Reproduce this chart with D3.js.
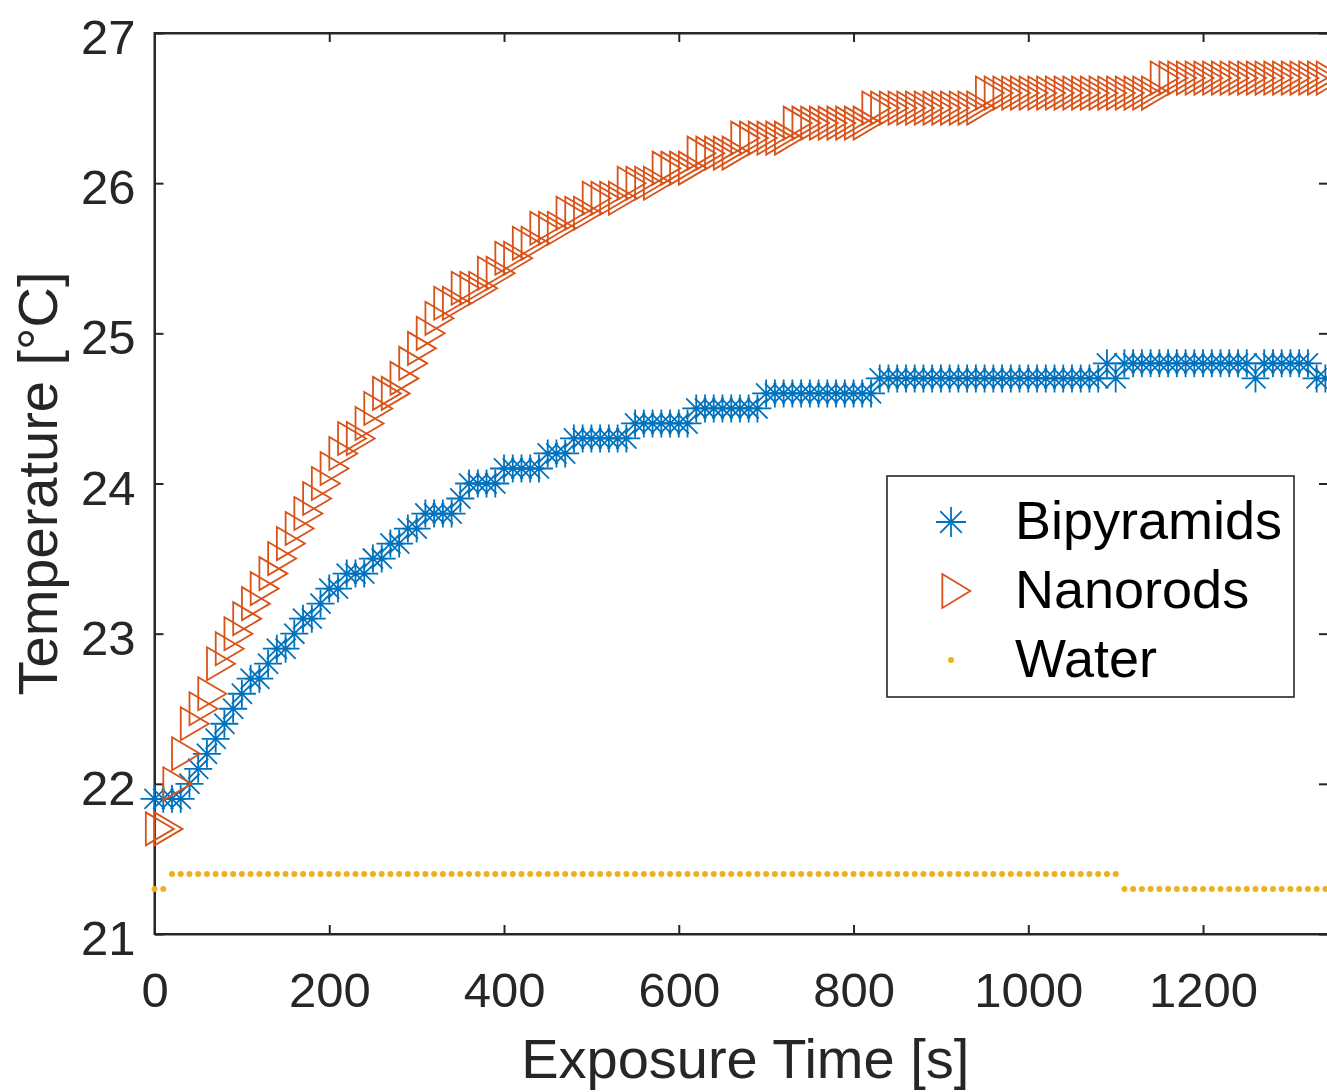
<!DOCTYPE html>
<html>
<head>
<meta charset="utf-8">
<script src="https://cdn.jsdelivr.net/npm/d3@7"></script>
<style>
  html, body { margin: 0; padding: 0; background: #ffffff; }
  svg { display: block; font-family: "Liberation Sans", Arial, sans-serif; }
</style>
</head>
<body>
<svg id="chart"></svg>
<script>
const width = 1327;
const height = 1092;

// sample times [s], one reading every 10 s
const times = d3.range(0, 1341, 10);

// temperature readings [°C] (0.1 °C resolution)
const bipyramids = [
  21.9, 21.9, 21.9, 21.9, 22.0, 22.1, 22.2, 22.3, 22.4, 22.5,
  22.6, 22.7, 22.7, 22.8, 22.9, 22.9, 23.0, 23.1, 23.1, 23.2,
  23.3, 23.3, 23.4, 23.4, 23.4, 23.5, 23.5, 23.6, 23.6, 23.7,
  23.7, 23.8, 23.8, 23.8, 23.8, 23.9, 24.0, 24.0, 24.0, 24.0,
  24.1, 24.1, 24.1, 24.1, 24.1, 24.2, 24.2, 24.2, 24.3, 24.3,
  24.3, 24.3, 24.3, 24.3, 24.3, 24.4, 24.4, 24.4, 24.4, 24.4,
  24.4, 24.4, 24.5, 24.5, 24.5, 24.5, 24.5, 24.5, 24.5, 24.5,
  24.6, 24.6, 24.6, 24.6, 24.6, 24.6, 24.6, 24.6, 24.6, 24.6,
  24.6, 24.6, 24.6, 24.7, 24.7, 24.7, 24.7, 24.7, 24.7, 24.7,
  24.7, 24.7, 24.7, 24.7, 24.7, 24.7, 24.7, 24.7, 24.7, 24.7,
  24.7, 24.7, 24.7, 24.7, 24.7, 24.7, 24.7, 24.7, 24.7, 24.8,
  24.7, 24.8, 24.8, 24.8, 24.8, 24.8, 24.8, 24.8, 24.8, 24.8,
  24.8, 24.8, 24.8, 24.8, 24.8, 24.8, 24.7, 24.8, 24.8, 24.8,
  24.8, 24.8, 24.8, 24.7, 24.7
];

const nanorods = [
  21.7, 21.7, 22.0, 22.2, 22.4, 22.5, 22.6, 22.8, 22.9, 23.0,
  23.1, 23.2, 23.3, 23.4, 23.5, 23.6, 23.7, 23.8, 23.9, 24.0,
  24.1, 24.2, 24.3, 24.3, 24.4, 24.5, 24.6, 24.6, 24.7, 24.8,
  24.9, 25.0, 25.1, 25.2, 25.2, 25.3, 25.3, 25.3, 25.4, 25.4,
  25.5, 25.5, 25.6, 25.6, 25.7, 25.7, 25.7, 25.8, 25.8, 25.8,
  25.9, 25.9, 25.9, 25.9, 26.0, 26.0, 26.0, 26.0, 26.1, 26.1,
  26.1, 26.1, 26.2, 26.2, 26.2, 26.2, 26.2, 26.3, 26.3, 26.3,
  26.3, 26.3, 26.3, 26.4, 26.4, 26.4, 26.4, 26.4, 26.4, 26.4,
  26.4, 26.4, 26.5, 26.5, 26.5, 26.5, 26.5, 26.5, 26.5, 26.5,
  26.5, 26.5, 26.5, 26.5, 26.5, 26.6, 26.6, 26.6, 26.6, 26.6,
  26.6, 26.6, 26.6, 26.6, 26.6, 26.6, 26.6, 26.6, 26.6, 26.6,
  26.6, 26.6, 26.6, 26.6, 26.6, 26.7, 26.7, 26.7, 26.7, 26.7,
  26.7, 26.7, 26.7, 26.7, 26.7, 26.7, 26.7, 26.7, 26.7, 26.7,
  26.7, 26.7, 26.7, 26.7, 26.7
];

const water = [
  21.3, 21.3, 21.4, 21.4, 21.4, 21.4, 21.4, 21.4, 21.4, 21.4,
  21.4, 21.4, 21.4, 21.4, 21.4, 21.4, 21.4, 21.4, 21.4, 21.4,
  21.4, 21.4, 21.4, 21.4, 21.4, 21.4, 21.4, 21.4, 21.4, 21.4,
  21.4, 21.4, 21.4, 21.4, 21.4, 21.4, 21.4, 21.4, 21.4, 21.4,
  21.4, 21.4, 21.4, 21.4, 21.4, 21.4, 21.4, 21.4, 21.4, 21.4,
  21.4, 21.4, 21.4, 21.4, 21.4, 21.4, 21.4, 21.4, 21.4, 21.4,
  21.4, 21.4, 21.4, 21.4, 21.4, 21.4, 21.4, 21.4, 21.4, 21.4,
  21.4, 21.4, 21.4, 21.4, 21.4, 21.4, 21.4, 21.4, 21.4, 21.4,
  21.4, 21.4, 21.4, 21.4, 21.4, 21.4, 21.4, 21.4, 21.4, 21.4,
  21.4, 21.4, 21.4, 21.4, 21.4, 21.4, 21.4, 21.4, 21.4, 21.4,
  21.4, 21.4, 21.4, 21.4, 21.4, 21.4, 21.4, 21.4, 21.4, 21.4,
  21.4, 21.3, 21.3, 21.3, 21.3, 21.3, 21.3, 21.3, 21.3, 21.3,
  21.3, 21.3, 21.3, 21.3, 21.3, 21.3, 21.3, 21.3, 21.3, 21.3,
  21.3, 21.3, 21.3, 21.3, 21.3
];

const xTicks = [0, 200, 400, 600, 800, 1000, 1200];
const yTicks = [21, 22, 23, 24, 25, 26, 27];

const seriesNames = ["Bipyramids", "Nanorods", "Water"];
const seriesColors = ["#0072BD", "#D95319", "#EDB120"];

const axisColor = "#262626";
const margin = {left: 154.5, right: -1, top: 33, bottom: 158};

const svg = d3.select("#chart")
    .attr("width", width)
    .attr("height", height)
    .attr("viewBox", [0, 0, width, height]);

const x = d3.scaleLinear()
    .domain([0, 1343])
    .range([margin.left, width - margin.right]);

const y = d3.scaleLinear()
    .domain([21, 27])
    .range([height - margin.bottom, margin.top]);

// marker shapes
const starPath = (s) => {
    const d = s * 0.72;
    return `M0,${-s}L0,${s}M${-s},0L${s},0M${-d},${-d}L${d},${d}M${-d},${d}L${d},${-d}`;
};
const triPath = (w, h) => `M${-w * 0.31},${-h / 2}L${w * 0.69},0L${-w * 0.31},${h / 2}Z`;

// axes box
svg.append("rect")
    .attr("x", x.range()[0])
    .attr("y", y.range()[1])
    .attr("width", x.range()[1] - x.range()[0])
    .attr("height", y.range()[0] - y.range()[1])
    .attr("fill", "none")
    .attr("stroke", axisColor)
    .attr("stroke-width", 2);

const tickLen = 9;
const fmt = d3.format("d");

const xAxis = svg.append("g")
    .attr("transform", `translate(0,${y.range()[0]})`)
    .call(d3.axisBottom(x).tickValues(xTicks).tickFormat(fmt)
        .tickSizeInner(-tickLen).tickSizeOuter(0).tickPadding(0));
const xAxisTop = svg.append("g")
    .attr("transform", `translate(0,${y.range()[1]})`)
    .call(d3.axisTop(x).tickValues(xTicks).tickSizeInner(-tickLen).tickSizeOuter(0).tickFormat(""));
const yAxis = svg.append("g")
    .attr("transform", `translate(${x.range()[0]},0)`)
    .call(d3.axisLeft(y).tickValues(yTicks).tickFormat(fmt)
        .tickSizeInner(-tickLen).tickSizeOuter(0).tickPadding(0));
const yAxisRight = svg.append("g")
    .attr("transform", `translate(${x.range()[1]},0)`)
    .call(d3.axisRight(y).tickValues(yTicks).tickSizeInner(-tickLen).tickSizeOuter(0).tickFormat(""));

[xAxis, xAxisTop, yAxis, yAxisRight].forEach(g => {
    g.select(".domain").attr("stroke", axisColor).attr("stroke-width", 2);
    g.selectAll(".tick line").attr("stroke", axisColor).attr("stroke-width", 2);
});

xAxis.selectAll(".tick text")
    .attr("y", 73)
    .attr("dy", null)
    .attr("fill", axisColor)
    .attr("font-size", 49)
    .attr("font-family", "Liberation Sans, Arial, sans-serif");

yAxis.selectAll(".tick text")
    .attr("x", -19)
    .attr("dy", "0.42em")
    .attr("fill", axisColor)
    .attr("font-size", 49)
    .attr("font-family", "Liberation Sans, Arial, sans-serif");

// axis titles
svg.append("text")
    .attr("x", (x.range()[0] + x.range()[1]) / 2 + 4)
    .attr("y", 1078)
    .attr("text-anchor", "middle")
    .attr("font-size", 56)
    .attr("fill", axisColor)
    .text("Exposure Time [s]");

svg.append("text")
    .attr("transform", `translate(57,${(y.range()[0] + y.range()[1]) / 2}) rotate(-90)`)
    .attr("text-anchor", "middle")
    .attr("font-size", 56)
    .attr("fill", axisColor)
    .text("Temperature [°C]");

// data series
const bipData = times.map((t, i) => ({t, v: bipyramids[i]}));
const nanoData = times.map((t, i) => ({t, v: nanorods[i]}));
const waterData = times.map((t, i) => ({t, v: water[i]}));

svg.append("g").selectAll("path")
    .data(bipData)
    .enter().append("path")
    .attr("transform", d => `translate(${x(d.t)},${y(d.v)})`)
    .attr("d", starPath(14))
    .attr("fill", "none")
    .attr("stroke", seriesColors[0])
    .attr("stroke-width", 1.8);

svg.append("g").selectAll("path")
    .data(nanoData)
    .enter().append("path")
    .attr("transform", d => `translate(${x(d.t)},${y(d.v)})`)
    .attr("d", triPath(28, 33))
    .attr("fill", "none")
    .attr("stroke", seriesColors[1])
    .attr("stroke-width", 1.8);

svg.append("g").selectAll("circle")
    .data(waterData)
    .enter().append("circle")
    .attr("cx", d => x(d.t))
    .attr("cy", d => y(d.v))
    .attr("r", 3)
    .attr("fill", seriesColors[2]);

// legend
const legend = svg.append("g");
legend.append("rect")
    .attr("x", 887)
    .attr("y", 476)
    .attr("width", 407)
    .attr("height", 221)
    .attr("fill", "#ffffff")
    .attr("stroke", axisColor)
    .attr("stroke-width", 1.6);

const legendRows = seriesNames.map((name, i) => ({name, i}));
const rowY = d => 522 + d.i * 69;

legend.selectAll("text")
    .data(legendRows)
    .enter().append("text")
    .attr("x", 1015)
    .attr("y", d => rowY(d) + 17)
    .attr("font-size", 54)
    .attr("fill", "#000000")
    .text(d => d.name);

legend.append("path")
    .attr("transform", `translate(951,${rowY(legendRows[0])})`)
    .attr("d", starPath(15))
    .attr("fill", "none")
    .attr("stroke", seriesColors[0])
    .attr("stroke-width", 1.8);
legend.append("path")
    .attr("transform", `translate(951,${rowY(legendRows[1])})`)
    .attr("d", triPath(28, 34))
    .attr("fill", "none")
    .attr("stroke", seriesColors[1])
    .attr("stroke-width", 1.8);
legend.append("circle")
    .attr("cx", 951)
    .attr("cy", rowY(legendRows[2]))
    .attr("r", 3)
    .attr("fill", seriesColors[2]);
</script>
</body>
</html>
